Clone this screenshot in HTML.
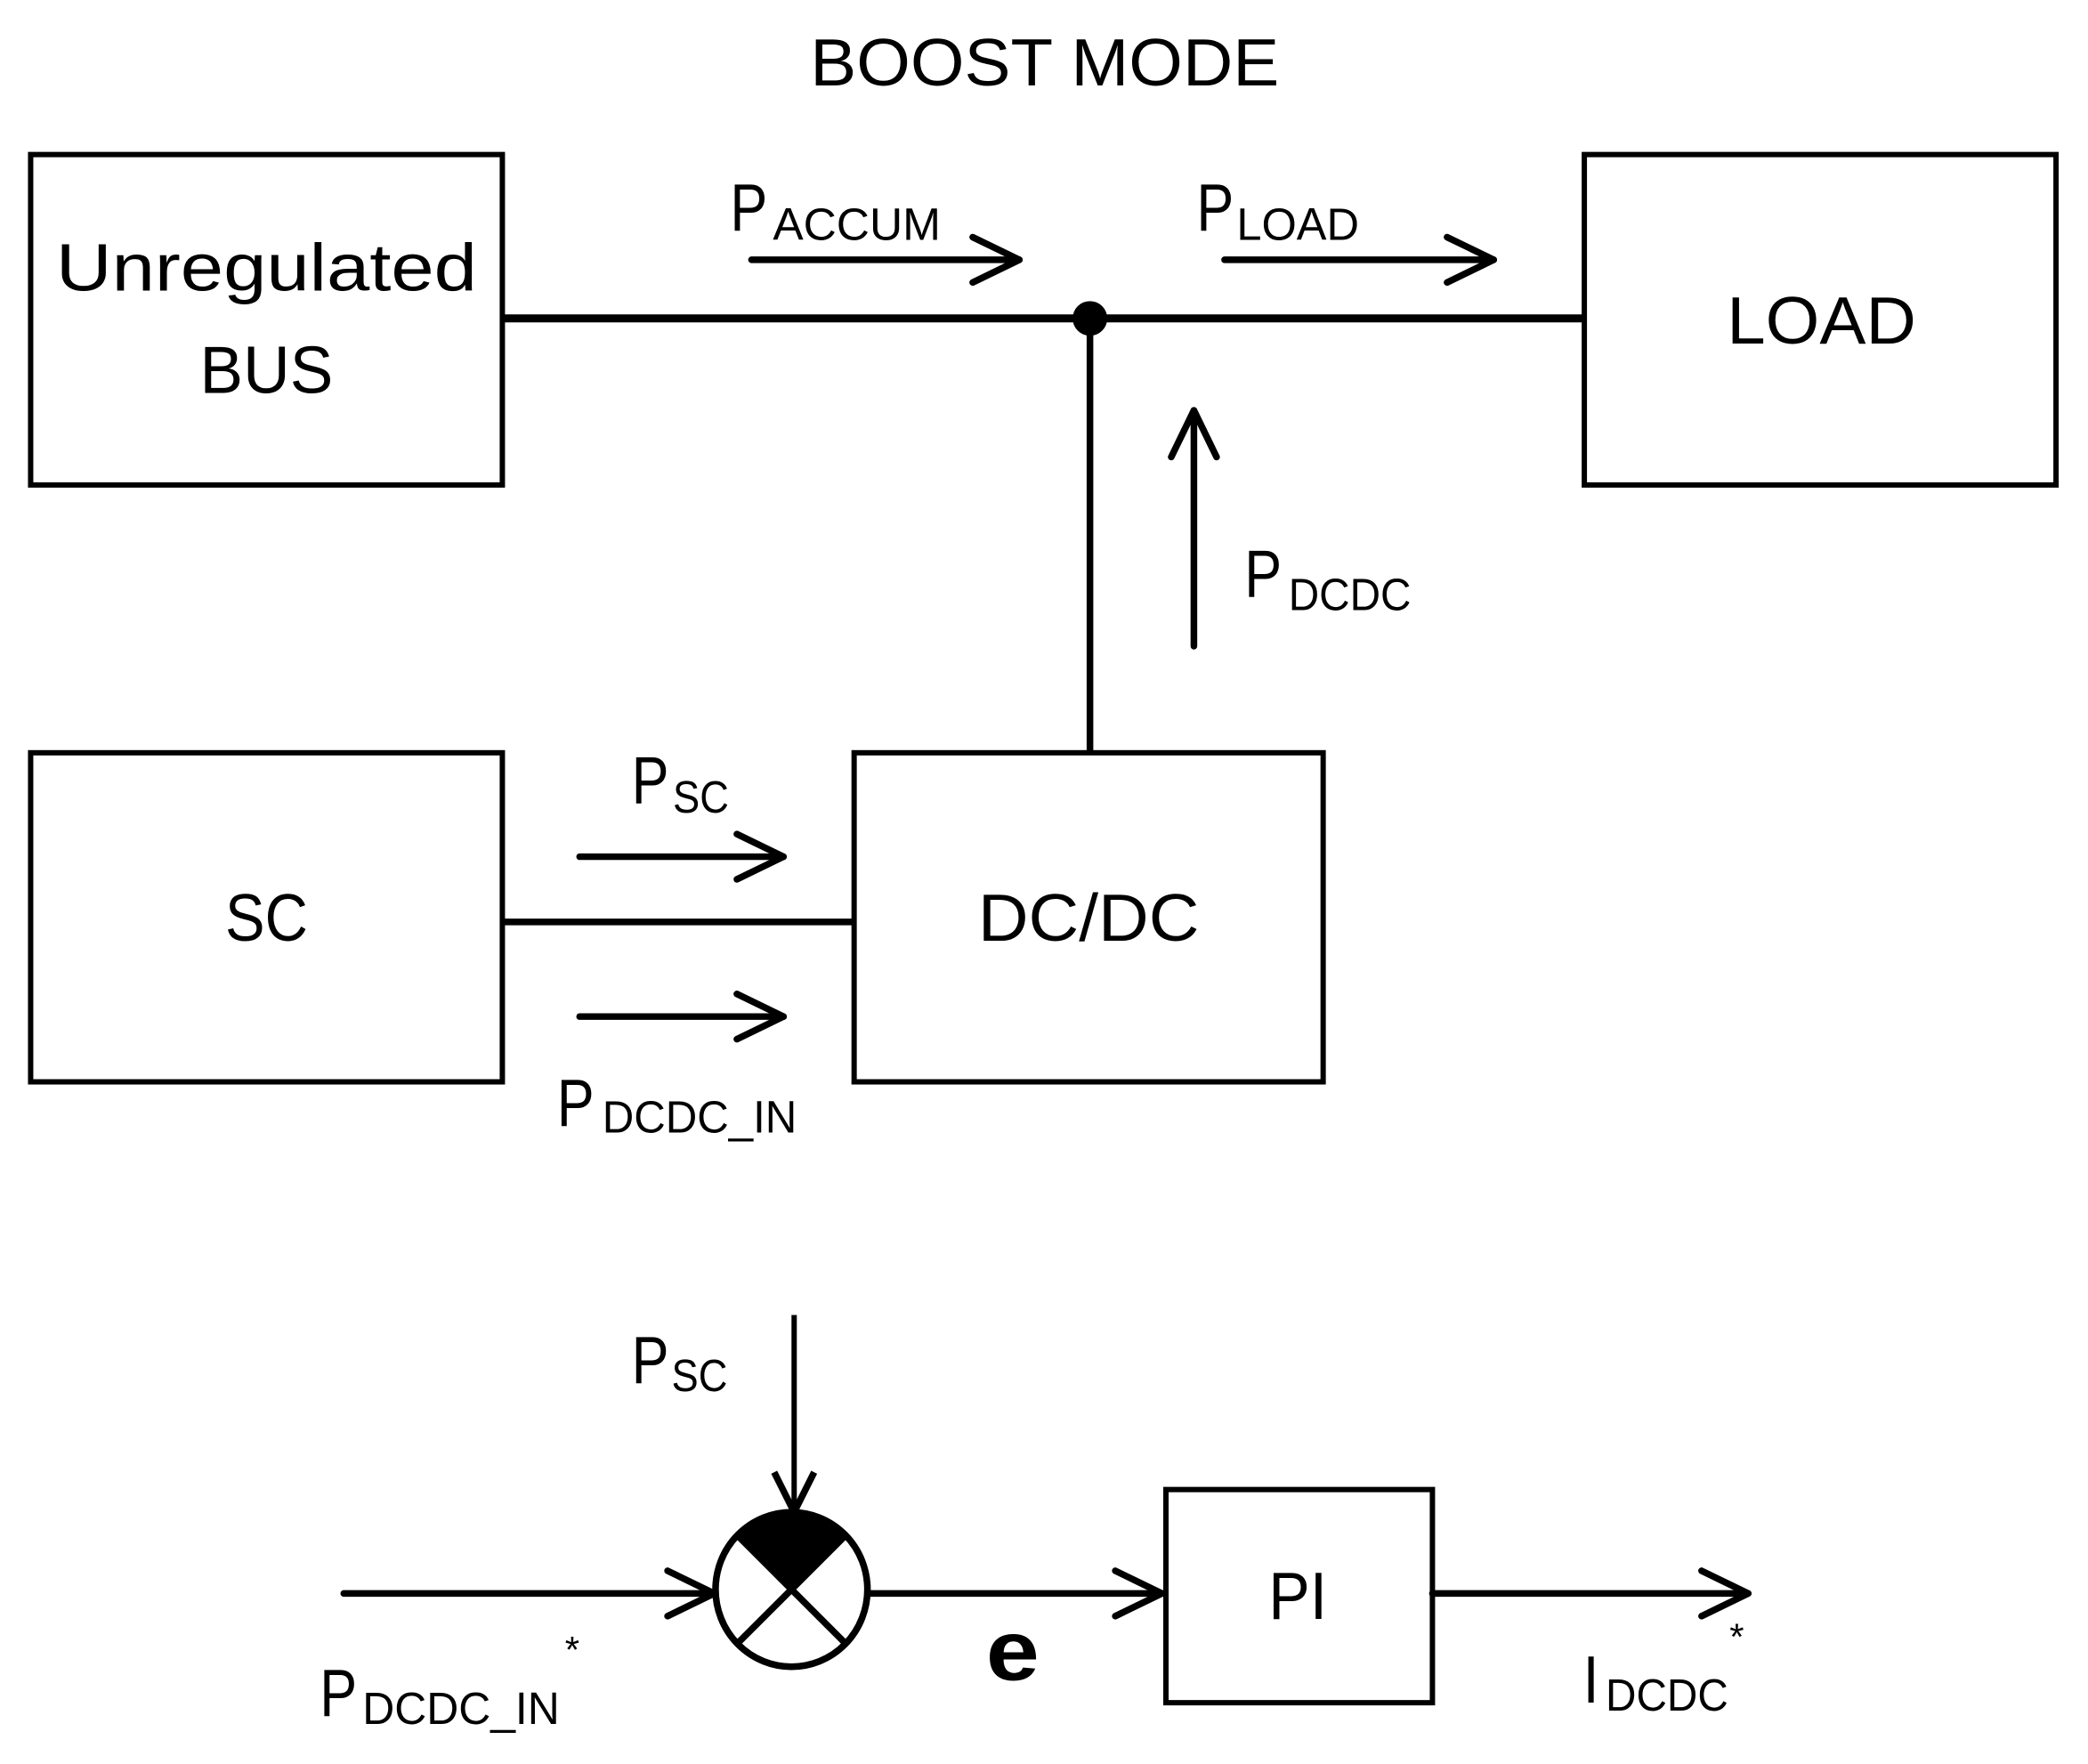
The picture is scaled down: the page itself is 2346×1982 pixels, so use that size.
<!DOCTYPE html>
<html><head><meta charset="utf-8"><style>html,body{margin:0;padding:0;background:#fff}svg{display:block}</style></head>
<body>
<svg width="2346" height="1982" viewBox="0 0 1567 1324" preserveAspectRatio="none" xmlns="http://www.w3.org/2000/svg" font-family="Liberation Sans, sans-serif" fill="#000">
<g fill="none" stroke="#000">
<rect x="23" y="116" width="354" height="248" stroke-width="4"/>
<rect x="1189" y="116" width="354" height="248" stroke-width="4"/>
<rect x="23" y="565" width="354" height="247" stroke-width="4"/>
<rect x="641" y="565" width="352" height="247" stroke-width="4"/>
<rect x="875" y="1118" width="200" height="160" stroke-width="4"/>
<line x1="377" y1="239" x2="1189" y2="239" stroke-width="6"/>
<line x1="818" y1="239" x2="818" y2="565" stroke-width="5"/>
<line x1="377" y1="692" x2="641" y2="692" stroke-width="5"/>
<g stroke-width="5" stroke-linecap="round" stroke-linejoin="round">
<line x1="564" y1="195" x2="765" y2="195"/><polyline points="730,178 765,195 730,212"/>
<line x1="919" y1="195" x2="1121" y2="195"/><polyline points="1086,178 1121,195 1086,212"/>
<line x1="896" y1="485" x2="896" y2="308"/><polyline points="879,343 896,308 913,343"/>
<line x1="435" y1="643" x2="588" y2="643"/><polyline points="553,626 588,643 553,660"/>
<line x1="435" y1="763" x2="588" y2="763"/><polyline points="553,746 588,763 553,780"/>
<line x1="258" y1="1196" x2="536" y2="1196"/><polyline points="501,1179 536,1196 501,1213"/>
<line x1="653" y1="1196" x2="872" y2="1196"/><polyline points="837,1179 872,1196 837,1213"/>
<line x1="1075" y1="1196" x2="1312" y2="1196"/><polyline points="1277,1179 1312,1196 1277,1213"/>
</g>
<line x1="596" y1="987" x2="596" y2="1135" stroke-width="4"/>
<polyline points="581,1105 596,1135 611,1105" stroke-width="5" stroke-linejoin="round"/>
</g>
<circle cx="818" cy="239" r="13"/>
<path d="M594,1133 A59,60 0 0 1 636,1151 L594,1193 L552,1151 A59,60 0 0 1 594,1133Z"/>
<ellipse cx="594" cy="1193" rx="57" ry="58" fill="none" stroke="#000" stroke-width="5"/>
<line x1="552" y1="1151" x2="636" y2="1235" stroke="#000" stroke-width="5"/>
<line x1="636" y1="1151" x2="552" y2="1235" stroke="#000" stroke-width="5"/>
<g font-size="50">
<text x="608" y="64" textLength="352" lengthAdjust="spacingAndGlyphs">BOOST MODE</text>
<text x="42" y="218" textLength="316" lengthAdjust="spacingAndGlyphs">Unregulated</text>
<text x="150" y="295" textLength="100" lengthAdjust="spacingAndGlyphs">BUS</text>
<text x="1296" y="258" textLength="142" lengthAdjust="spacingAndGlyphs">LOAD</text>
<text x="169" y="706" textLength="62" lengthAdjust="spacingAndGlyphs">SC</text>
<text x="734" y="706" textLength="166" lengthAdjust="spacingAndGlyphs">DC/DC</text>
<text x="952" y="1215" textLength="44" lengthAdjust="spacingAndGlyphs">PI</text>
<text x="548" y="173" textLength="28" lengthAdjust="spacingAndGlyphs">P</text>
<text x="898" y="173" textLength="28" lengthAdjust="spacingAndGlyphs">P</text>
<text x="934" y="448" textLength="28" lengthAdjust="spacingAndGlyphs">P</text>
<text x="474" y="603" textLength="28" lengthAdjust="spacingAndGlyphs">P</text>
<text x="418" y="845" textLength="28" lengthAdjust="spacingAndGlyphs">P</text>
<text x="474" y="1038" textLength="28" lengthAdjust="spacingAndGlyphs">P</text>
<text x="240" y="1288" textLength="28" lengthAdjust="spacingAndGlyphs">P</text>
<text x="1188" y="1278" textLength="12" lengthAdjust="spacingAndGlyphs">I</text>
</g>
<g font-size="34">
<text x="580" y="180" textLength="126" lengthAdjust="spacingAndGlyphs">ACCUM</text>
<text x="928" y="180" textLength="92" lengthAdjust="spacingAndGlyphs">LOAD</text>
<text x="967" y="458" textLength="92" lengthAdjust="spacingAndGlyphs">DCDC</text>
<text x="505" y="610" textLength="42" lengthAdjust="spacingAndGlyphs">SC</text>
<text x="452" y="850" textLength="146" lengthAdjust="spacingAndGlyphs">DCDC_IN</text>
<text x="504" y="1044" textLength="42" lengthAdjust="spacingAndGlyphs">SC</text>
<text x="272" y="1294" textLength="148" lengthAdjust="spacingAndGlyphs">DCDC_IN</text>
<text x="1205" y="1284" textLength="92" lengthAdjust="spacingAndGlyphs">DCDC</text>
</g>
<text x="424" y="1248" font-size="28">*</text>
<text x="1298" y="1238" font-size="28">*</text>
<text x="740" y="1261" font-size="64" font-weight="bold" textLength="40" lengthAdjust="spacingAndGlyphs">e</text>
</svg>
</body></html>
